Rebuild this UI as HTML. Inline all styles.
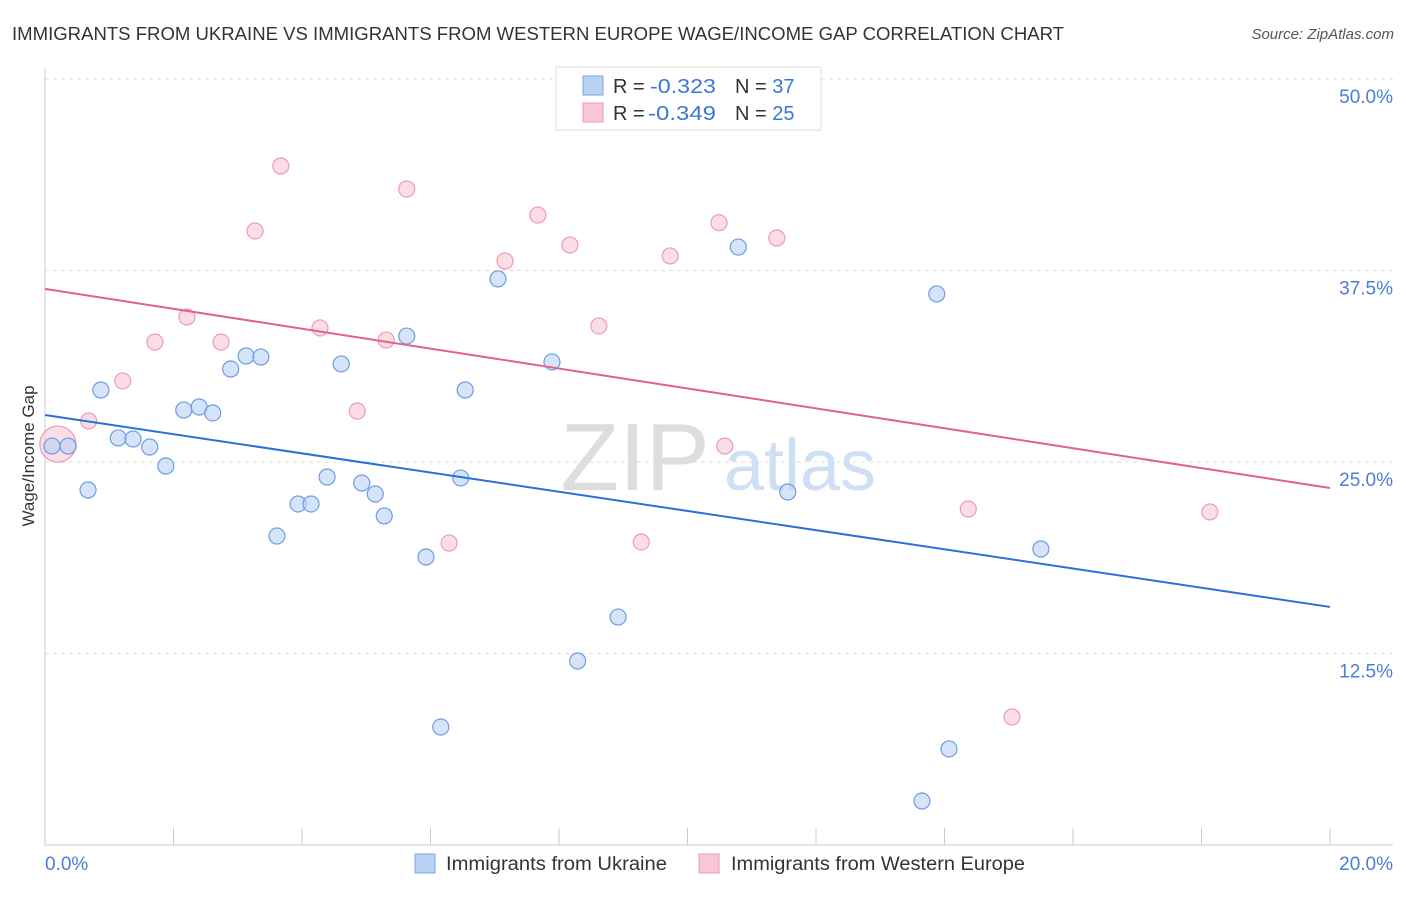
<!DOCTYPE html>
<html><head><meta charset="utf-8"><style>
body{margin:0;background:#fff;font-family:"Liberation Sans",sans-serif;}
svg text{font-family:"Liberation Sans",sans-serif;}
</style></head><body>
<svg id="chart" width="1406" height="892" xmlns="http://www.w3.org/2000/svg">
<text x="12" y="40" font-size="18.5" fill="#333" textLength="1052" lengthAdjust="spacingAndGlyphs">IMMIGRANTS FROM UKRAINE VS IMMIGRANTS FROM WESTERN EUROPE WAGE/INCOME GAP CORRELATION CHART</text>
<text x="1394" y="39" font-size="15" fill="#555" text-anchor="end" font-style="italic">Source: ZipAtlas.com</text>
<g id="grid"></g>
<g><text x="635" y="490" font-size="96" fill="#ddd" font-family="Liberation Serif" text-anchor="middle">ZIP</text><text x="800" y="490" font-size="72" fill="#cfe0f4" text-anchor="middle">atlas</text></g>
<g id="marks"></g>
<text transform="translate(34,456) rotate(-90)" font-size="17" fill="#333" text-anchor="middle">Wage/Income Gap</text>
<text x="45" y="870" font-size="19" fill="#4a7fd4">0.0%</text>
<text x="1393" y="870" font-size="19" fill="#4a7fd4" text-anchor="end">20.0%</text>
<g>
<rect x="556" y="67" width="265" height="63" fill="#fff" stroke="#ddd"/>
<rect x="583" y="76" width="20" height="19" fill="#b9d2f4" stroke="#7aa6e6"/>
<rect x="583" y="103" width="20" height="19" fill="#f9c6d5" stroke="#ee9ab5"/>
<text x="613" y="93" font-size="20" fill="#333">R = </text><text x="650" y="93" font-size="20" fill="#3a78d6" textLength="66" lengthAdjust="spacingAndGlyphs">-0.323</text>
<text x="735" y="93" font-size="20" fill="#333">N = <tspan fill="#3a78d6">37</tspan></text>
<text x="613" y="120" font-size="20" fill="#333">R = </text><text x="648" y="120" font-size="20" fill="#3a78d6" textLength="68" lengthAdjust="spacingAndGlyphs">-0.349</text>
<text x="735" y="120" font-size="20" fill="#333">N = <tspan fill="#3a78d6">25</tspan></text>
</g>
<g>
<rect x="415" y="854" width="20" height="19" fill="#b9d2f4" stroke="#7aa6e6"/>
<text x="446" y="870" font-size="19" fill="#333" textLength="221" lengthAdjust="spacingAndGlyphs">Immigrants from Ukraine</text>
<rect x="699" y="854" width="20" height="19" fill="#f9c6d5" stroke="#ee9ab5"/>
<text x="731" y="870" font-size="19" fill="#333" textLength="294" lengthAdjust="spacingAndGlyphs">Immigrants from Western Europe</text>
</g>
</svg>
<script>
const yTicks=[12.5,25,37.5,50];
const yTickLabels=["12.5%","25.0%","37.5%","50.0%"];
const xTicks=[0,2,4,6,8,10,12,14,16,18,20];
const blueX=[0.11,0.36,0.67,0.87,1.14,1.37,1.63,1.88,2.16,2.40,2.61,2.89,3.13,3.36,3.61,3.94,4.14,4.39,4.61,4.93,5.14,5.28,5.63,5.93,6.16,6.47,6.54,7.05,7.89,8.29,8.92,10.79,11.56,13.65,13.88,14.07,15.50];
const blueY=[26.04,26.04,23.17,29.70,26.57,26.50,25.98,24.74,28.39,28.59,28.20,31.07,31.92,31.85,20.17,22.26,22.26,24.02,31.40,23.63,22.91,21.48,33.22,18.80,7.70,23.96,29.70,36.95,31.53,12.01,14.88,39.03,23.04,2.87,35.97,6.27,19.32];
const pinkX=[0.20,0.68,1.21,1.71,2.21,2.74,3.27,3.67,4.28,4.86,5.31,5.63,6.29,7.16,7.67,8.17,8.62,9.28,9.73,10.49,10.58,11.39,14.37,15.05,18.13];
const pinkY=[26.17,27.68,30.29,32.83,34.46,32.83,40.08,44.32,33.75,28.33,32.96,42.82,19.71,38.12,41.12,39.16,33.88,19.78,38.45,40.62,26.04,39.62,21.93,8.36,21.74];
const blueTrend=[28.07,15.54];
const pinkTrend=[36.3,23.3];
const NS="http://www.w3.org/2000/svg";
const sx=v=>45+v/20*1285;
const sy=v=>845-v/12.5*191.5;
const grid=document.getElementById('grid');
const marks=document.getElementById('marks');
function mk(tag,attrs,parent){const e=document.createElementNS(NS,tag);for(const k in attrs)e.setAttribute(k,attrs[k]);parent.appendChild(e);return e;}
yTicks.forEach((t,i)=>{
 const l=mk('line',{x1:45,x2:1393,y1:sy(t),y2:sy(t),stroke:'#ddd','stroke-dasharray':'4,4'},grid);
 
 
 const tx=mk('text',{x:1393,y:sy(t)+24,'font-size':19,fill:'#4a7fd4','text-anchor':'end'},grid);
 tx.textContent=yTickLabels[i];
 
 
});
const ax=mk('line',{x1:45,x2:1393,y1:845,y2:845,stroke:'#ccc'},grid);


const ay=mk('line',{x1:45,x2:45,y1:68,y2:845,stroke:'#ccc'},grid);


xTicks.forEach(t=>{
 const l=mk('line',{x1:sx(t),x2:sx(t),y1:828,y2:845,stroke:'#ccc'},grid);
 
 
});
pinkX.forEach((x,i)=>{
 const c=mk('circle',{cx:sx(x),cy:sy(pinkY[i]),r:i===0?18:8,fill:'#f9c6d5','fill-opacity':0.6,stroke:'#ee9ab5','stroke-width':1.2},marks);
 
 
});
blueX.forEach((x,i)=>{
 const c=mk('circle',{cx:sx(x),cy:sy(blueY[i]),r:8,fill:'#b9d2f4','fill-opacity':0.6,stroke:'#6d9de2','stroke-width':1.2},marks);
 
 
});
const bl=mk('line',{x1:sx(0),x2:sx(20),y1:sy(blueTrend[0]),y2:sy(blueTrend[1]),stroke:'#2b70d8','stroke-width':2},marks);


const pl=mk('line',{x1:sx(0),x2:sx(20),y1:sy(pinkTrend[0]),y2:sy(pinkTrend[1]),stroke:'#e2628e','stroke-width':2},marks);


</script>
</body></html>
